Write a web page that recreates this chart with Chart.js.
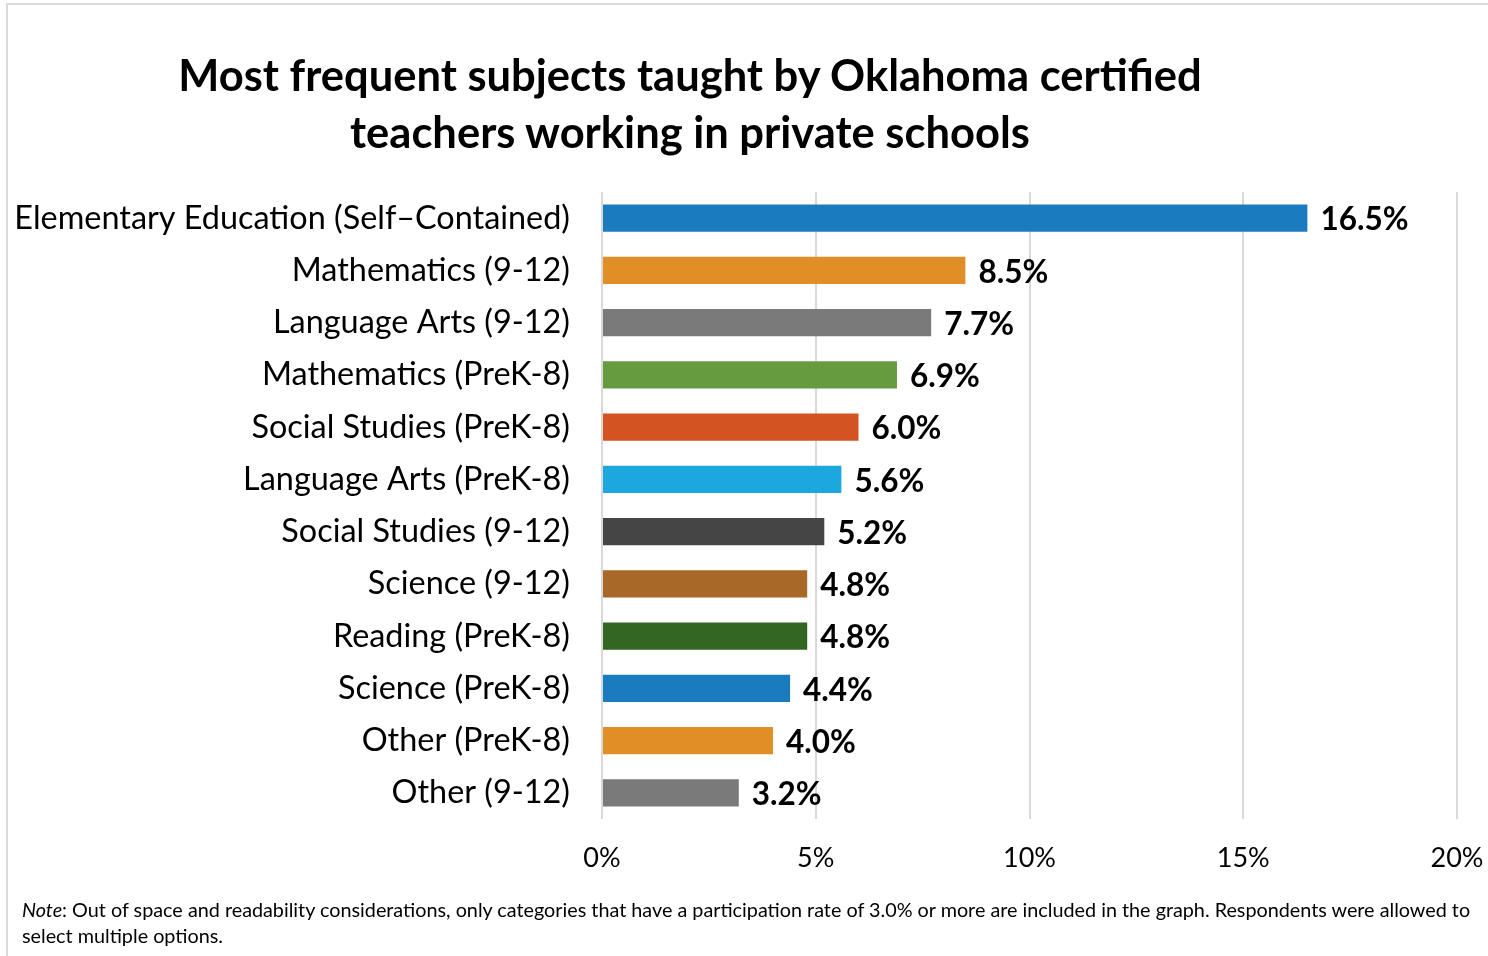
<!DOCTYPE html>
<html>
<head>
<meta charset="utf-8">
<script src="https://cdn.jsdelivr.net/npm/chart.js@4/dist/chart.umd.min.js"></script>
<style>
  html, body { margin: 0; padding: 0; background: #fff; }
  body { width: 1488px; height: 956px; position: relative; overflow: hidden; font-family: Lato, "Noto Sans", sans-serif; }
  #frame { position: absolute; left: 6px; top: 3px; width: 1500px; height: 1000px; border-left: 2px solid #d9d9d9; border-top: 2px solid #d9d9d9; }
  #chart { position: absolute; left: 0; top: 0; }
  #title { position: absolute; left: 40px; width: 1300px; top: 46px; text-align: center; font-weight: bold; font-size: 43.5px; line-height: 57px; color: #000; }
  #note { position: absolute; left: 22px; top: 896px; width: 1466px; font-size: 19.8px; line-height: 26px; color: #000; }
</style>
</head>
<body>
<div id="frame"></div>
<canvas id="chart" width="1488" height="956"></canvas>
<div id="title">Most frequent subjects taught by Oklahoma certified<br>teachers working in private schools</div>
<div id="note"><i>Note</i>: Out of space and readability considerations, only categories that have a participation rate of 3.0% or more are included in the graph. Respondents were allowed to<br>select multiple options.</div>
<script>
const categories = [
  "Elementary Education (Self\u2013Contained)",
  "Mathematics (9-12)",
  "Language Arts (9-12)",
  "Mathematics (PreK-8)",
  "Social Studies (PreK-8)",
  "Language Arts (PreK-8)",
  "Social Studies (9-12)",
  "Science (9-12)",
  "Reading (PreK-8)",
  "Science (PreK-8)",
  "Other (PreK-8)",
  "Other (9-12)"
];
const values = [16.5, 8.5, 7.7, 6.9, 6.0, 5.6, 5.2, 4.8, 4.8, 4.4, 4.0, 3.2];
const barColors = ["#1b7bbf", "#e08f27", "#7a7a7a", "#679b40", "#d35422", "#1ca7df", "#454545", "#a86828", "#336622", "#1b7bbf", "#e08f27", "#7a7a7a"];
const xTicks = [0, 5, 10, 15, 20];

const valueLabels = {
  id: 'valueLabels',
  afterDatasetsDraw(chart) {
    const ctx = chart.ctx;
    const meta = chart.getDatasetMeta(0);
    ctx.save();
    ctx.font = 'bold 31.5px Lato, "Noto Sans", sans-serif';
    ctx.fillStyle = '#000';
    ctx.textAlign = 'left';
    ctx.textBaseline = 'middle';
    meta.data.forEach((bar, i) => {
      ctx.fillText(values[i].toFixed(1) + '%', bar.x + 13, bar.y + 2);
    });
    ctx.restore();
  }
};

new Chart(document.getElementById('chart'), {
  type: 'bar',
  data: {
    labels: categories,
    datasets: [{
      data: values,
      backgroundColor: barColors,
      borderWidth: 0,
      categoryPercentage: 1,
      barPercentage: 0.52
    }]
  },
  options: {
    indexAxis: 'y',
    responsive: false,
    animation: false,
    layout: { padding: { left: 0, right: 31, top: 192, bottom: 0 } },
    plugins: { legend: { display: false }, tooltip: { enabled: false }, title: { display: false } },
    scales: {
      x: {
        min: 0, max: 20,
        afterBuildTicks(scale) { scale.ticks = xTicks.map(v => ({ value: v })); },
        grid: { color: '#d9d9d9', lineWidth: 2, drawTicks: false },
        border: { display: false },
        ticks: { color: '#000', font: { family: 'Lato', size: 27 }, padding: 23, callback: v => v + '%' },
        afterFit(scale) { scale.height = 137; scale.paddingLeft = 0; scale.paddingRight = 0; }
      },
      y: {
        grid: { display: false },
        border: { display: false },
        ticks: { color: '#000', font: { family: 'Lato', size: 32.4 }, padding: 24 },
        afterFit(scale) { scale.width = 602; }
      }
    }
  },
  plugins: [valueLabels]
});
</script>
</body>
</html>
